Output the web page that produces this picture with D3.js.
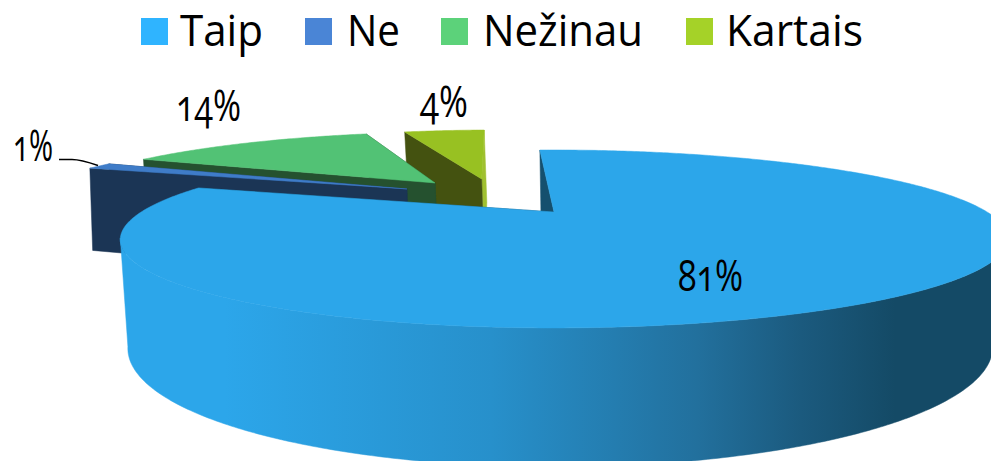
<!DOCTYPE html>
<html><head><meta charset="utf-8">
<script src="https://cdn.jsdelivr.net/npm/d3@7/dist/d3.min.js"></script>
<style>html,body{margin:0;padding:0;background:#fff;overflow:hidden}svg{display:block}text{font-family:"Open Sans",sans-serif;fill:#000}text.v{font-variant-numeric:oldstyle-nums;font-feature-settings:"onum" 1;font-weight:400}</style>
</head><body><svg id="c" width="991" height="461"></svg>
<script>
const categories = ["Taip","Ne","Nežinau","Kartais"];
const seriesValues = [81,1.3,13.3,4.4];
const valueLabels = ["81%","1%","14%","4%"];
const legendColors = ["#2fb4ff","#4a85d6","#5cd27a","#a5d228"];
const topColors = ["#2ca6ea","#3f7cc8","#52c275","#98c122"];
const wallColors = ["#15506e","#1b3555","#25512f","#445210"];
const endWallColors = ["#15506e","#1b3555","#25512f","#a0c030"];
// layout
const explodeU = [0,-.384,-.318,-.196], explodeV = [0,-.312,-.403,-.466];
const sliceRadius = [1,1.03,1.015,1];
const depthX = [0,-3,0,0], depthY = [0,-3,0,0];
const legendSwatchX = [141,305,441,686], legendTextX = [180,347,483,726], legendTextW = [83,53,160,137];
const labelX = [710.5,33,208.5,444], labelY = [291,161,121,117], labelW = [65,40,65,48];
const K=-.303, TOP={cx:554,cy:212,A:80.8,B:423,m:.024}, BOT={cx:555,cy:312,A:108,B:412,m:.0126};
const rotation = -2.5*Math.PI/180;

const svg = d3.select("#c");
const defs = svg.append("defs");
const grad = defs.append("linearGradient").attr("id","wall").attr("gradientUnits","userSpaceOnUse")
  .attr("x1",130).attr("x2",990).attr("y1",0).attr("y2",0);
[[0,"#2ca6ea"],[.11,"#2ca6ea"],[.42,"#2790cb"],[.66,"#22709d"],[.78,"#1b5a7e"],[.89,"#144a66"],[1,"#144a66"]]
  .forEach(s=>grad.append("stop").attr("offset",s[0]).attr("stop-color",s[1]));

const pie = d3.pie().sort(null).startAngle(rotation).endAngle(rotation+2*Math.PI);
const arcs = pie(seriesValues);
const proj = (P,u,v)=>{const d=1+K*v;return [P.cx+P.B*u*(1+P.m*u)/d,P.cy+P.A*v/d];};
const line = d3.line();
const pt = (i,P,a,r=1)=>{
  const R=r*sliceRadius[i];
  const q=proj(P,explodeU[i]+R*Math.sin(a),explodeV[i]-R*Math.cos(a));
  return P===BOT?[q[0]+depthX[i],q[1]+depthY[i]]:q;
};
const arcAngles = (a0,a1)=>{const n=Math.max(2,Math.ceil((a1-a0)/.01));return d3.range(n+1).map(k=>a0+(a1-a0)*k/n);};
const rimFrom = Math.acos(-.2934), rimTo = 2*Math.PI-Math.acos(-.2934);

function drawSlice(i){
  const a=arcs[i], g=svg.append("g");
  const as=arcAngles(a.startAngle,a.endAngle);
  const poly=(pts,fill)=>g.append("path").attr("d",line(pts)+"Z").attr("fill",fill).attr("stroke",fill).attr("stroke-width",.5);
  poly([pt(i,TOP,a.endAngle,0),pt(i,TOP,a.endAngle),pt(i,BOT,a.endAngle),pt(i,BOT,a.endAngle,0)],endWallColors[i]);
  poly([pt(i,TOP,a.startAngle,0),pt(i,TOP,a.startAngle),pt(i,BOT,a.startAngle),pt(i,BOT,a.startAngle,0)],wallColors[i]);
  const f0=Math.max(a.startAngle,rimFrom), f1=Math.min(a.endAngle,rimTo);
  if(f1>f0){
    const fs=arcAngles(f0,f1);
    poly(fs.map(t=>pt(i,TOP,t)).concat(fs.slice().reverse().map(t=>pt(i,BOT,t))), i===0?"url(#wall)":wallColors[i]);
  }
  poly([pt(i,TOP,a.startAngle,0)].concat(as.map(t=>pt(i,TOP,t))),topColors[i]);
}
[3,2,1,0].forEach(drawSlice);

svg.append("path").attr("d",d3.line().curve(d3.curveMonotoneX)([[59,159.5],[72,159.5],[98,165.5]])).attr("fill","none").attr("stroke","#000").attr("stroke-width",1.6);

svg.selectAll("text.v").data(valueLabels).join("text").attr("class","v")
  .attr("x",(d,i)=>labelX[i]).attr("y",(d,i)=>labelY[i]).attr("text-anchor","middle")
  .attr("font-size",43).attr("textLength",(d,i)=>labelW[i]).attr("lengthAdjust","spacingAndGlyphs").text(d=>d);

const lg = svg.selectAll("g.l").data(categories).join("g").attr("class","l");
lg.append("rect").attr("x",(d,i)=>legendSwatchX[i]).attr("y",18).attr("width",27).attr("height",27).attr("fill",(d,i)=>legendColors[i]);
lg.append("text").attr("x",(d,i)=>legendTextX[i]).attr("y",45.5).attr("font-size",43)
  .attr("textLength",(d,i)=>legendTextW[i]).attr("lengthAdjust","spacingAndGlyphs").text(d=>d);
</script></body></html>
